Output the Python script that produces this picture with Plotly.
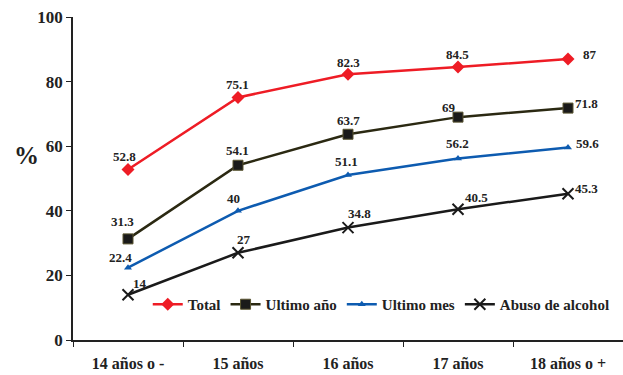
import plotly.graph_objects as go

categories = ["14 años o -", "15 años", "16 años", "17 años", "18 años o +"]
total = [52.8, 75.1, 82.3, 84.5, 87]
ultimo_anio = [31.3, 54.1, 63.7, 69, 71.8]
ultimo_mes = [22.4, 40, 51.1, 56.2, 59.6]
abuso = [14, 27, 34.8, 40.5, 45.3]
y_ticks = [0, 20, 40, 60, 80, 100]

FONT = "Liberation Serif"

# label offsets in pixels (dx, dy up) — styling only
off_total = [(-4, 13), (-1, 13), (0, 12), (-1, 13), (22, 4)]
off_anio = [(-6, 17), (-1, 15), (0, 14), (-9, 10), (18, 5)]
off_mes = [(-8, 10), (-5, 12), (-2, 13), (-1, 15), (19, 4)]
off_abuso = [(12, 11), (6, 13), (11, 14), (18, 12), (18, 5)]

series = [
    ("Total", total, "#ee1c25", dict(symbol="diamond", size=10, color="#ee1c25"), off_total),
    ("Ultimo año", ultimo_anio, "#2b2912", dict(symbol="square", size=10, color="#1a1a1a", line=dict(color="#5a5530", width=1)), off_anio),
    ("Ultimo mes", ultimo_mes, "#0d5bb0", dict(symbol="triangle-up", size=7, color="#0d5bb0"), off_mes),
    ("Abuso de alcohol", abuso, "#1a1a1a", dict(symbol="x-thin", size=11, color="#1a1a1a", line=dict(color="#1a1a1a", width=2)), off_abuso),
]

fig = go.Figure()
annotations = []
for name, vals, col, mk, offs in series:
    fig.add_trace(go.Scatter(
        x=categories, y=vals, name=name, mode="lines+markers",
        line=dict(color=col, width=2.5), marker=mk, cliponaxis=False,
    ))
    for c, v, (dx, dy) in zip(categories, vals, offs):
        annotations.append(dict(x=c, y=v, text=str(v), showarrow=False,
                                xshift=dx, yshift=dy, xanchor="center", yanchor="middle",
                                font=dict(family=FONT, size=13, color="#222222", weight="bold")))

annotations.append(dict(text="%", xref="paper", yref="paper", x=-0.084, y=0.57,
                        xanchor="center", yanchor="middle",
                        showarrow=False, font=dict(family=FONT, size=25, color="#222222", weight="bold")))

fig.update_layout(
    width=623, height=375,
    margin=dict(l=73, r=0, t=17, b=35),
    plot_bgcolor="white", paper_bgcolor="white",
    font=dict(family=FONT, size=14, color="#222222", weight="bold"),
    showlegend=True,
    legend=dict(orientation="h", x=0.985, y=0.11, xanchor="right", yanchor="middle",
                font=dict(family=FONT, size=15, color="#222222", weight="bold"),
                itemwidth=30, tracegroupgap=0, bgcolor="rgba(0,0,0,0)"),
    xaxis=dict(type="category", range=[-0.5, 4.5], showgrid=False, showline=True,
               linecolor="#222222", linewidth=1.5, ticks="outside", ticklen=5,
               tickcolor="#222222", tickson="boundaries", ticklabelstandoff=8,
               tickfont=dict(family=FONT, size=16, weight="bold")),
    yaxis=dict(range=[0, 100], tickvals=y_ticks, showgrid=False, showline=True,
               linecolor="#222222", linewidth=1.5, ticks="outside", ticklen=5,
               tickcolor="#222222", zeroline=False,
               tickfont=dict(family=FONT, size=17, weight="bold")),
    annotations=annotations,
)

fig.write_html("out.html")
